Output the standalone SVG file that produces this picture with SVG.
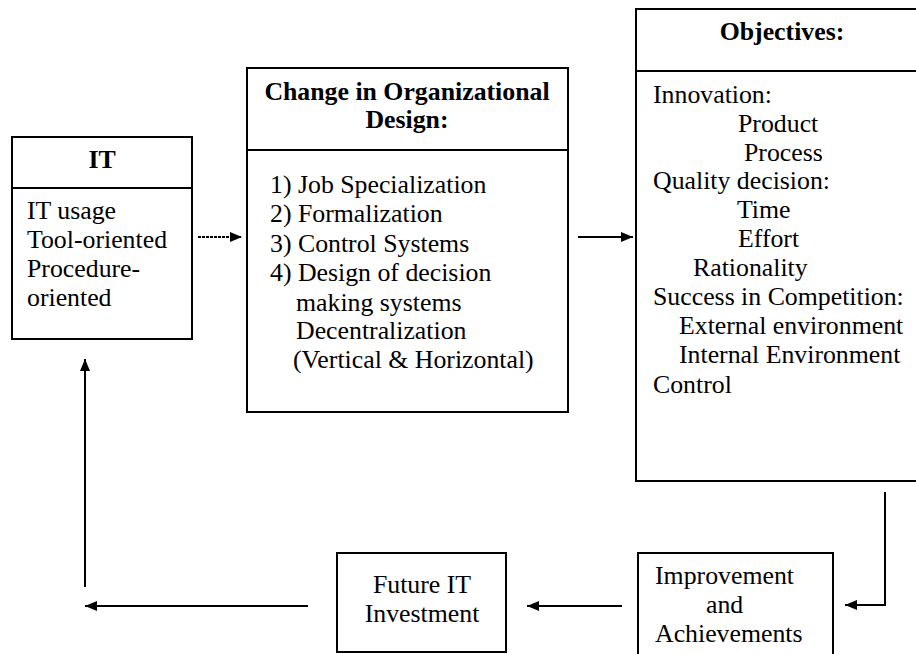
<svg xmlns="http://www.w3.org/2000/svg" width="916" height="654" viewBox="0 0 916 654">
<defs>
<marker id="ah" markerWidth="12" markerHeight="10" refX="12" refY="5" orient="auto" markerUnits="userSpaceOnUse">
<path d="M0,0 L12,5 L0,10 Z" fill="#000"/>
</marker>
<style>
.box{fill:#fff;stroke:#000;stroke-width:2}
.t{font-family:'Liberation Serif','Tinos','DejaVu Serif',serif;font-size:25.8px;font-weight:normal;font-style:normal;fill:#000}
.b{font-weight:bold}
.c{text-anchor:middle}
.ln{fill:none;stroke:#000;stroke-width:2}
</style>
</defs>
<rect width="916" height="654" fill="#fff"/>
<g id="it">
<rect class="box" x="12" y="137" width="180" height="202"/>
<line class="ln" x1="12" y1="188" x2="192" y2="188"/>
<text class="t b c" x="102" y="168">IT</text>
<text class="t" x="27" y="219">IT usage</text>
<text class="t" x="27" y="248">Tool-oriented</text>
<text class="t" x="27" y="277">Procedure-</text>
<text class="t" x="27" y="306">oriented</text>
</g>
<g id="change">
<rect class="box" x="247" y="68" width="321" height="344"/>
<line class="ln" x1="247" y1="150" x2="568" y2="150"/>
<text class="t b c" x="407" y="100">Change in Organizational</text>
<text class="t b c" x="407" y="128">Design:</text>
<text class="t" x="270" y="193">1) Job Specialization</text>
<text class="t" x="270" y="222">2) Formalization</text>
<text class="t" x="270" y="252">3) Control Systems</text>
<text class="t" x="270" y="281">4) Design of decision</text>
<text class="t" x="296" y="311">making systems</text>
<text class="t" x="296" y="339">Decentralization</text>
<text class="t" x="293" y="368">(Vertical &amp; Horizontal)</text>
</g>
<g id="objectives">
<rect class="box" x="636" y="9" width="300" height="472"/>
<line class="ln" x1="636" y1="71" x2="936" y2="71"/>
<text class="t b c" x="782" y="40">Objectives:</text>
<text class="t" x="653" y="103">Innovation:</text>
<text class="t" x="738" y="132">Product</text>
<text class="t" x="744" y="161">Process</text>
<text class="t" x="653" y="189">Quality decision:</text>
<text class="t" x="737" y="218">Time</text>
<text class="t" x="738" y="247">Effort</text>
<text class="t" x="693" y="276">Rationality</text>
<text class="t" x="653" y="305">Success in Competition:</text>
<text class="t" x="679" y="334">External environment</text>
<text class="t" x="679" y="363">Internal Environment</text>
<text class="t" x="653" y="393">Control</text>
</g>
<g id="improvement">
<rect class="box" x="638" y="553" width="195" height="110"/>
<text class="t" x="655" y="584">Improvement</text>
<text class="t" x="706" y="613">and</text>
<text class="t" x="655" y="642">Achievements</text>
</g>
<g id="future">
<rect class="box" x="337" y="553" width="169" height="99"/>
<text class="t c" x="422" y="593">Future IT</text>
<text class="t c" x="422" y="622">Investment</text>
</g>
<g id="connectors">
<line class="ln" x1="198" y1="237" x2="242" y2="237" stroke-dasharray="3 1" marker-end="url(#ah)"/>
<line class="ln" x1="578" y1="237" x2="633" y2="237" marker-end="url(#ah)"/>
<polyline class="ln" points="885,492 885,605 845,605" marker-end="url(#ah)"/>
<line class="ln" x1="622" y1="606" x2="527" y2="606" marker-end="url(#ah)"/>
<line class="ln" x1="308" y1="606" x2="85" y2="606" marker-end="url(#ah)"/>
<line class="ln" x1="85" y1="587" x2="85" y2="359" marker-end="url(#ah)"/>
</g>
</svg>
